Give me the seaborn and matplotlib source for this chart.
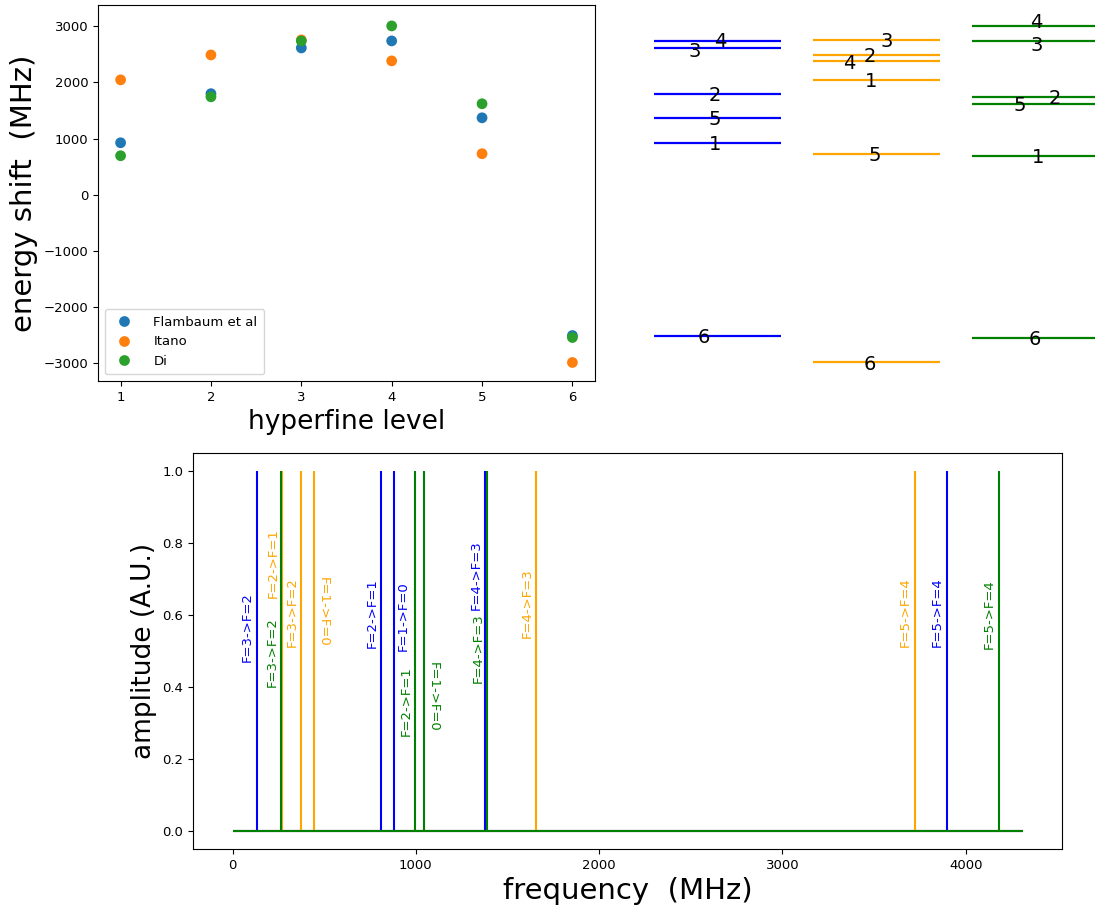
import numpy as np
import pandas as pd
import seaborn as sns
import matplotlib
matplotlib.use("Agg")
import matplotlib.pyplot as plt

# hyperfine level energies (MHz)
levels = [1, 2, 3, 4, 5, 6]
flambaum = [925, 1800, 2615, 2740, 1370, -2510]
itano = [2046, 2490, 2758, 2384, 730, -2990]
di = [694, 1744, 2740, 3007, 1620, -2545]
names = ["Flambaum et al", "Itano", "Di"]

# transition peak frequencies (MHz)
transitions = ["F=1->F=0", "F=2->F=1", "F=3->F=2", "F=4->F=3", "F=5->F=4"]
freq_flambaum = [883, 812, 131, 1379, 3897]
freq_itano = [447, 272, 376, 1657, 3722]
freq_di = [1046, 997, 267, 1390, 4180]
freq_span = [0, 4310]

line_colors = ["blue", "orange", "green"]

# label placement for the level diagram (x within each column, y nudge)
level_lab_x = [
    [0.48, 0.48, 0.32, 0.52, 0.48, 0.39],
    [0.46, 0.45, 0.58, 0.29, 0.49, 0.45],
    [0.52, 0.65, 0.51, 0.51, 0.38, 0.50],
]
level_lab_dy = [
    [-30, -30, -60, -10, -30, -30],
    [-30, -30, -20, -50, -30, -30],
    [-30, -30, -90, 60, -30, -30],
]
# label placement for spectrum: (side, y of text start, rotation)
spec_lab = [
    [(1, 0.50, 90), (-1, 0.507, 90), (-1, 0.47, 90), (-1, 0.615, 90), (-1, 0.51, 90)],
    [(1, 0.705, 270), (-1, 0.646, 90), (-1, 0.51, 90), (-1, 0.535, 90), (-1, 0.51, 90)],
    [(1, 0.47, 270), (-1, 0.265, 90), (-1, 0.40, 90), (-1, 0.41, 90), (-1, 0.505, 90)],
]

df = pd.DataFrame({
    "level": levels * 3,
    "shift": flambaum + itano + di,
    "source": [n for n in names for _ in levels],
})

fig = plt.figure(figsize=(10.95, 9.07), dpi=100)
ax1 = fig.add_axes([98 / 1095, 1 - 381 / 907, 497 / 1095, 376 / 907])
ax2 = fig.add_axes([650 / 1095, 1 - 381 / 907, 445 / 1095, 376 / 907], sharey=ax1)
ax3 = fig.add_axes([193 / 1095, 1 - 849 / 907, 869 / 1095, 396 / 907])

#### scatter of level shifts
sns.scatterplot(data=df, x="level", y="shift", hue="source", palette="tab10",
                s=60, linewidth=0, ax=ax1)
ax1.legend(loc="lower left", fontsize=9.5, handletextpad=1.2, borderpad=0.5)
ax1.set_ylim(-3320, 3380)
ax1.set_xlabel("hyperfine level", fontsize=19)
ax1.set_ylabel("energy shift  (MHz)", fontsize=21)
ax1.tick_params(labelsize=9.5)

#### level diagram
for i, series in enumerate([flambaum, itano, di]):
    x0 = i * 1.25
    ax2.hlines(series, x0, x0 + 1, colors=line_colors[i], lw=1.6)
    for j, e in enumerate(series):
        ax2.text(x0 + level_lab_x[i][j], e + level_lab_dy[i][j], str(levels[j]),
                 fontsize=14, ha="center", va="center")
ax2.set_xlim(-0.03, 3.47)
ax2.axis("off")

#### spectrum
for i, freqs in enumerate([freq_flambaum, freq_itano, freq_di]):
    c = line_colors[i]
    ax3.hlines(0, freq_span[0], freq_span[1], colors=c, lw=1.5)
    ax3.vlines(freqs, 0, 1, colors=c, lw=1.5)
for i, freqs in enumerate([freq_flambaum, freq_itano, freq_di]):
    for j, f in enumerate(freqs):
        side, y, rot = spec_lab[i][j]
        ax3.text(f + side * 50, y, transitions[j], color=line_colors[i],
                 rotation=rot, fontsize=9.5, ha="center",
                 va="bottom" if rot == 90 else "top")
ax3.set_xticks([0, 1000, 2000, 3000, 4000])
ax3.set_xlabel("frequency  (MHz)", fontsize=21)
ax3.set_ylabel("amplitude (A.U.)", fontsize=19)
ax3.tick_params(labelsize=9.5)

fig.savefig("out.png", dpi=100)
